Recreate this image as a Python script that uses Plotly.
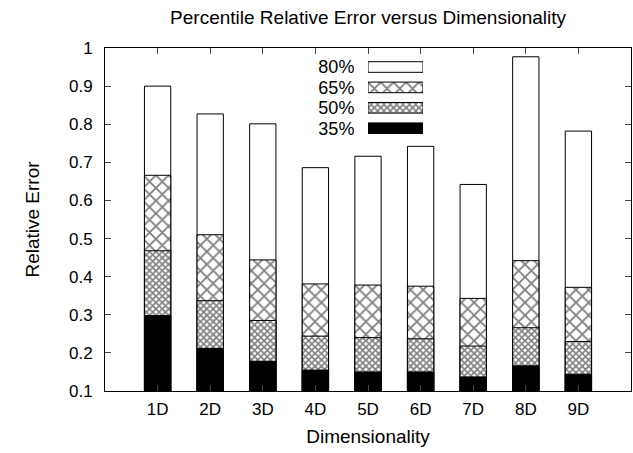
import plotly.graph_objects as go

categories = ["1D", "2D", "3D", "4D", "5D", "6D", "7D", "8D", "9D"]
p80 = [0.900, 0.827, 0.801, 0.686, 0.716, 0.742, 0.642, 0.977, 0.782]
p65 = [0.666, 0.510, 0.444, 0.381, 0.378, 0.375, 0.343, 0.442, 0.372]
p50 = [0.468, 0.337, 0.285, 0.244, 0.240, 0.237, 0.218, 0.266, 0.230]
p35 = [0.298, 0.212, 0.178, 0.155, 0.150, 0.150, 0.137, 0.166, 0.144]
series_names = ["80%", "65%", "50%", "35%"]
y_ticks = [0.1, 0.2, 0.3, 0.4, 0.5, 0.6, 0.7, 0.8, 0.9, 1.0]
y_tick_labels = ["0.1", "0.2", "0.3", "0.4", "0.5", "0.6", "0.7", "0.8", "0.9", "1"]

xpos = list(range(1, len(categories) + 1))
FONT = "Liberation Sans, Arial, Helvetica, sans-serif"

patterns = {
    "80%": (dict(shape=""), "white"),
    "65%": (dict(shape="x", size=9, solidity=0.36, fgcolor="black", bgcolor="white", fillmode="overlay"), "white"),
    "50%": (dict(shape="x", size=4.5, solidity=0.62, fgcolor="black", bgcolor="white", fillmode="overlay"), "white"),
    "35%": (dict(shape=""), "black"),
}
values = {"80%": p80, "65%": p65, "50%": p50, "35%": p35}

fig = go.Figure()
for name in series_names:
    pat, col = patterns[name]
    fig.add_trace(go.Bar(
        x=xpos, y=values[name], name=name, width=0.5, showlegend=False,
        marker=dict(color=col, line=dict(color="black", width=1), pattern=pat),
    ))

# gnuplot-style key (label text followed by a sample box), drawn on its own small axis
for name in series_names:
    pat, col = patterns[name]
    fig.add_trace(go.Bar(
        y=[name], x=[1], orientation="h", width=0.52, showlegend=False, hoverinfo="skip",
        xaxis="x2", yaxis="y2",
        marker=dict(color=col, line=dict(color="black", width=1), pattern=pat),
    ))

fig.update_layout(
    width=633, height=453,
    barmode="overlay",
    plot_bgcolor="white", paper_bgcolor="white",
    margin=dict(l=105, r=2, t=48, b=62),
    font=dict(family=FONT, size=17, color="black"),
    title=dict(text="Percentile Relative Error versus Dimensionality", x=0.5815, xanchor="center",
               y=0.962, yanchor="middle", font=dict(size=19, family=FONT)),
    showlegend=False,
    xaxis=dict(range=[0, 10], tickvals=xpos, ticktext=categories, showgrid=False, zeroline=False,
               ticks="inside", ticklen=6, mirror="ticks", showline=True, linecolor="black", linewidth=1,
               ticklabelstandoff=3,
               title=dict(text="Dimensionality", standoff=11, font=dict(size=19)), tickfont=dict(size=17)),
    yaxis=dict(range=[0.1, 1.0], tickvals=y_ticks, ticktext=y_tick_labels, showgrid=False, zeroline=False,
               ticks="inside", ticklen=6, mirror="ticks", showline=True, linecolor="black", linewidth=1,
               ticklabelstandoff=8,
               title=dict(text="Relative Error", standoff=24, font=dict(size=19)), tickfont=dict(size=17)),
    xaxis2=dict(domain=[0.500, 0.6046], range=[0, 1], anchor="y2", visible=False, fixedrange=True),
    yaxis2=dict(domain=[0.7364, 0.9743], anchor="x2", autorange="reversed", showgrid=False,
                zeroline=False, showline=False, ticks="outside", ticklen=9, tickcolor="rgba(0,0,0,0)",
                tickmode="array", tickvals=series_names, ticktext=series_names,
                tickfont=dict(size=18), categoryorder="array", categoryarray=series_names,
                fixedrange=True),
)
fig.write_html("out.html", config={"displayModeBar": False},
               post_script="document.body.style.margin='0';")
